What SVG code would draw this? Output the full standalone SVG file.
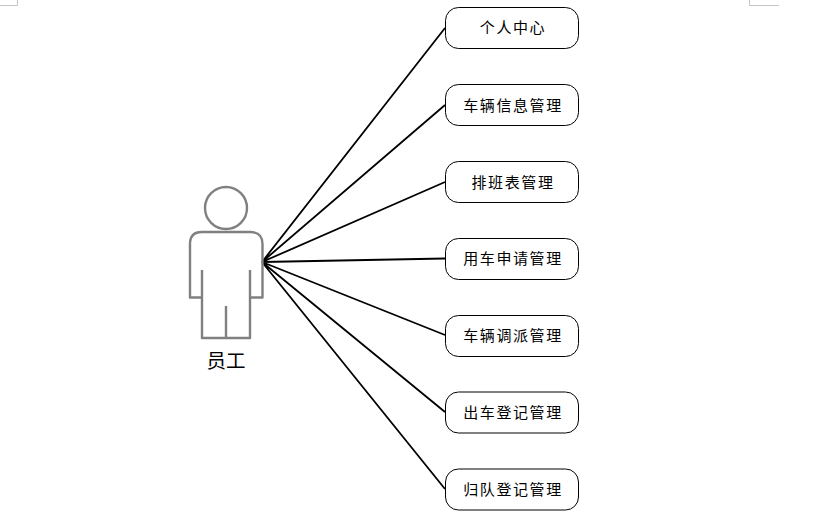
<svg xmlns="http://www.w3.org/2000/svg" width="820" height="515" viewBox="0 0 820 515">
<style>
.bg{fill:#fff}
.mark{fill:none;stroke:#c4c4c4;stroke-width:1}
.person{fill:none;stroke:#808080;stroke-width:2.400;stroke-linejoin:round}
.conn{fill:none;stroke:#000;stroke-width:1.800}
.box{fill:#fff;stroke:#000;stroke-width:1}
.t{font-family:"Noto Sans CJK SC","Liberation Sans",sans-serif;font-size:15px;letter-spacing:1.600px;fill:#000;text-anchor:middle}
.a{font-family:"Noto Sans CJK SC","Liberation Sans",sans-serif;font-size:19.500px;fill:#000;text-anchor:middle}
</style>
<rect class="bg" width="820" height="515"/>
<path class="mark" d="M0 5.500H17.500V0M749.500 0V5.500H779"/>
<g id="connectors">
<path class="conn" d="M262 262L445 28M262 262L445 105M262 262L445 182M262 262L445 258.500M262 262L445 335M262 262L445 412M262 262L445 489"/>
</g>
<g id="actor">
<circle class="person" cx="226" cy="208" r="21"/>
<path class="person" d="M202 270V297.500H190V244Q190 232 202 232H250Q262.500 232 262.500 244V297.500H250V270M202 297.500V338H250V297.500M226 306V338"/>
<text class="a" x="226" y="368">员工</text>
</g>
<g id="n1"><rect class="box" x="445.500" y="7.500" width="133" height="41" rx="13"/><text class="t" x="513" y="33">个人中心</text></g>
<g id="n2"><rect class="box" x="445.500" y="84.500" width="133" height="41" rx="13"/><text class="t" x="513" y="110.500">车辆信息管理</text></g>
<g id="n3"><rect class="box" x="445.500" y="161.500" width="133" height="41" rx="13"/><text class="t" x="513" y="187.500">排班表管理</text></g>
<g id="n4"><rect class="box" x="445.500" y="238.500" width="133" height="41" rx="13"/><text class="t" x="513" y="263.500">用车申请管理</text></g>
<g id="n5"><rect class="box" x="445.500" y="315.500" width="133" height="41" rx="13"/><text class="t" x="513" y="340.500">车辆调派管理</text></g>
<g id="n6"><rect class="box" x="445.500" y="392" width="133" height="41" rx="13"/><text class="t" x="513" y="417.500">出车登记管理</text></g>
<g id="n7"><rect class="box" x="445.500" y="469" width="133" height="41" rx="13"/><text class="t" x="513" y="494.500">归队登记管理</text></g>
</svg>
